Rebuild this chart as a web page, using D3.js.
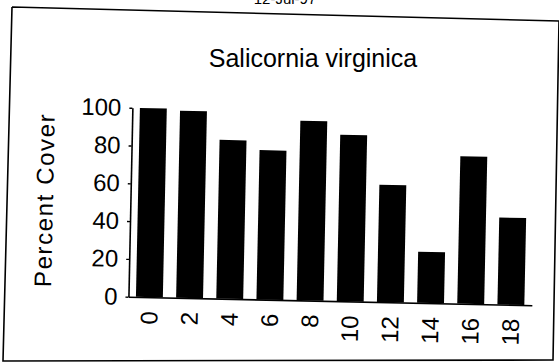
<!DOCTYPE html>
<html>
<head>
<meta charset="utf-8">
<script src="https://cdn.jsdelivr.net/npm/d3@7/dist/d3.min.js"></script>
<style>
  html, body { margin: 0; padding: 0; background: #fff; }
  svg { display: block; }
  text { font-family: "Liberation Sans", Arial, Helvetica, sans-serif; fill: #000; }
</style>
</head>
<body>
<script>
// Salicornia virginica percent cover by plot position
const categories = ["0", "2", "4", "6", "8", "10", "12", "14", "16", "18"];
const cover = [100, 99, 84, 79, 95, 88, 62, 27, 78, 46];
const yTicks = [0, 20, 40, 60, 80, 100];
const dateLabel = "12-Jul-97";
const titleText = "Salicornia virginica";
const yTitle = "Percent Cover";

const W = 559, H = 364;

const svg = d3.select("body").append("svg")
  .attr("width", W)
  .attr("height", H);

svg.append("rect").attr("width", W).attr("height", H).attr("fill", "#fff");

// outer frame of the sheet (slightly skewed on the page)
svg.append("path")
  .attr("d", d3.line()([[12, 7], [559, 21], [553, 360], [3, 361], [12, 7]]))
  .attr("fill", "none")
  .attr("stroke", "#000")
  .attr("stroke-width", 1.6);

// date line at the very top
svg.append("text")
  .attr("x", 285).attr("y", 4)
  .attr("text-anchor", "middle")
  .style("font-size", "15px")
  .text(dateLabel);

svg.append("text")
  .attr("x", 313).attr("y", 67)
  .attr("text-anchor", "middle")
  .style("font-size", "25px")
  .text(titleText);

// plot body, slightly rotated like the printed page
const g = svg.append("g").attr("transform", "rotate(1.2, 334, 200)");

const x = d3.scaleBand()
  .domain(categories)
  .range([130.5, 534])
  .paddingInner(0.33)
  .paddingOuter(0.187);

const y = d3.scaleLinear()
  .domain([0, 100])
  .range([301, 112]);

// bars
g.selectAll("rect.bar")
  .data(categories)
  .join("rect")
  .attr("class", "bar")
  .attr("x", d => x(d))
  .attr("width", x.bandwidth())
  .attr("y", (d, i) => y(cover[i]))
  .attr("height", (d, i) => y(0) - y(cover[i]))
  .attr("fill", "#000");

// y axis
const yAxis = g.append("g")
  .attr("transform", `translate(${x.range()[0]},0)`)
  .call(d3.axisLeft(y).tickValues(yTicks).tickSize(3).tickSizeOuter(0).tickPadding(8));
yAxis.select(".domain").attr("stroke-width", 1.6);
yAxis.selectAll(".tick line").attr("stroke-width", 1.4);
yAxis.selectAll(".tick text")
  .style("font-size", "24px")
  .attr("font-family", null);

// x axis baseline with rotated category labels
const xAxis = g.append("g")
  .attr("transform", `translate(0,${y(0)})`)
  .call(d3.axisBottom(x).tickSize(0).tickSizeOuter(0).tickFormat(""));
xAxis.select(".domain").attr("stroke-width", 1.6);

g.selectAll("text.xlab")
  .data(categories)
  .join("text")
  .attr("class", "xlab")
  .attr("transform", d => `translate(${x(d) + x.bandwidth() / 2},315) rotate(-90)`)
  .attr("text-anchor", "end")
  .attr("dy", "0.35em")
  .style("font-size", "24px")
  .text(d => d);

// y axis title
g.append("text")
  .attr("transform", "translate(53,206) rotate(-90)")
  .attr("text-anchor", "middle")
  .style("font-size", "24px")
  .style("letter-spacing", "1.6px")
  .text(yTitle);
</script>
</body>
</html>
